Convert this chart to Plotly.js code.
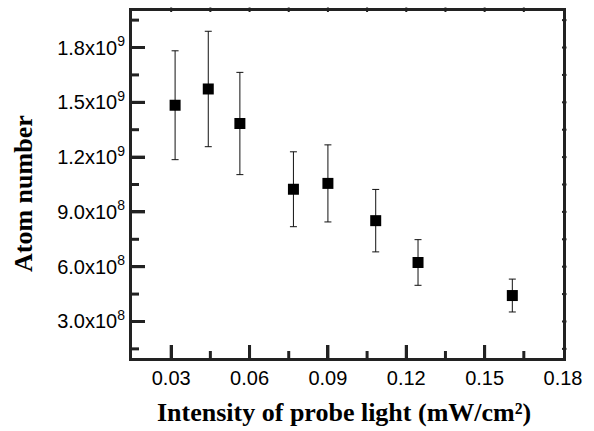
<!DOCTYPE html>
<html>
<head>
<meta charset="utf-8">
<script src="https://cdn.plot.ly/plotly-3.0.1.min.js"></script>
<style>html,body{margin:0;padding:0;background:#fff;}#chart{width:594px;height:431px;}</style>
</head>
<body>
<div id="chart"></div>
<script>
// Data
var intensity = [0.0315, 0.0442, 0.0563, 0.0768, 0.0900, 0.1083, 0.1245, 0.1606];
var atomNumber = [1.484e9, 1.573e9, 1.384e9, 1.024e9, 1.056e9, 8.52e8, 6.23e8, 4.42e8];
var atomError = [2.98e8, 3.16e8, 2.80e8, 2.05e8, 2.11e8, 1.71e8, 1.25e8, 0.90e8];

var xTickVals = [0.03, 0.06, 0.09, 0.12, 0.15, 0.18];
var xTickText = ['0.03', '0.06', '0.09', '0.12', '0.15', '0.18'];
var xMinorVals = [0.045, 0.075, 0.105, 0.135, 0.165];
var yTickVals = [3e8, 6e8, 9e8, 1.2e9, 1.5e9, 1.8e9];
var yTickText = ['3.0x10<sup>8</sup>', '6.0x10<sup>8</sup>', '9.0x10<sup>8</sup>',
                 '1.2x10<sup>9</sup>', '1.5x10<sup>9</sup>', '1.8x10<sup>9</sup>'];
var yMinorVals = [1.5e8, 4.5e8, 7.5e8, 1.05e9, 1.35e9, 1.65e9, 1.95e9];

var xTitle = 'Intensity of probe light (mW/cm\u00B2)';
var yTitle = 'Atom number';

var xRange = [0.015, 0.18];
var yRange = [1e8, 2e9];

var trace = {
  x: intensity, y: atomNumber, type: 'scatter', mode: 'markers',
  marker: {symbol: 'square', size: 11, color: '#000'},
  error_y: {type: 'data', array: atomError, visible: true, color: '#111', thickness: 1, width: 3.5},
  showlegend: false, hoverinfo: 'none'
};

var W = 594, H = 431;
var M = {l: 132, r: 31, t: 11, b: 73};
var plotW = W - M.l - M.r, plotH = H - M.t - M.b;

var tickFont = {family: 'Liberation Sans, Arial, sans-serif', size: 20, color: '#000'};
var titleFamily = 'Liberation Serif, Times New Roman, serif';
var lineCol = '#222';

// Tick marks drawn as axis-anchored lines, positioned from the tick value arrays
var shapes = [];
function xTick(v, len, width) {
  shapes.push({type: 'line', xref: 'x', yref: 'paper', x0: v, x1: v, y0: 0, y1: len / plotH,
               line: {color: lineCol, width: width}});
}
function yTick(v, len, width) {
  shapes.push({type: 'line', xref: 'paper', yref: 'y', y0: v, y1: v, x0: 0, x1: len / plotW,
               line: {color: lineCol, width: width}});
}
xMinorVals.forEach(function (v) { xTick(v, 7, 3); });
yMinorVals.forEach(function (v) { yTick(v, 7, 3); });
xTickVals.forEach(function (v) { if (v < xRange[1]) xTick(v, 13, 3); });
yTickVals.forEach(function (v) { yTick(v, 13, 3); });
// tiny mirror ticks on the top and right frame
var mirrorOut = 3.5, mirrorIn = 1;
xTickVals.concat(xMinorVals).forEach(function (v) {
  if (v >= xRange[1]) return;
  shapes.push({type: 'line', xref: 'x', yref: 'paper', x0: v, x1: v,
               y0: 1 - mirrorIn / plotH, y1: 1 + mirrorOut / plotH, line: {color: lineCol, width: 2}});
});
yTickVals.concat(yMinorVals).forEach(function (v) {
  shapes.push({type: 'line', xref: 'paper', yref: 'y', y0: v, y1: v,
               x0: 1 - mirrorIn / plotW, x1: 1 + mirrorOut / plotW, line: {color: lineCol, width: 2}});
});

var layout = {
  width: W, height: H,
  margin: M,
  xaxis: {
    range: xRange, tickmode: 'array', tickvals: xTickVals, ticktext: xTickText,
    ticks: 'inside', ticklen: 13, tickwidth: 3, tickcolor: lineCol,
    showline: true, linewidth: 3, linecolor: lineCol, mirror: true,
    showgrid: false, zeroline: false, tickfont: tickFont
  },
  yaxis: {
    range: yRange, tickmode: 'array', tickvals: yTickVals, ticktext: yTickText,
    ticks: 'inside', ticklen: 13, tickwidth: 3, tickcolor: lineCol,
    showline: true, linewidth: 3, linecolor: lineCol, mirror: true,
    showgrid: false, zeroline: false, tickfont: tickFont
  },
  shapes: shapes,
  annotations: [{
    text: yTitle, textangle: -90,
    xref: 'paper', yref: 'paper', x: (24 - M.l) / plotW, y: (M.t + plotH - 194) / plotH,
    xanchor: 'center', yanchor: 'middle', showarrow: false,
    font: {family: titleFamily, size: 26, color: '#000', weight: 'bold'}
  }, {
    text: xTitle,
    xref: 'paper', yref: 'paper', x: (343.5 - M.l) / plotW, y: (M.t + plotH - 412) / plotH,
    xanchor: 'center', yanchor: 'middle', showarrow: false,
    font: {family: titleFamily, size: 26, color: '#000', weight: 'bold'}
  }]
};

Plotly.newPlot('chart', [trace], layout, {staticPlot: true, displayModeBar: false});
</script>
</body>
</html>
